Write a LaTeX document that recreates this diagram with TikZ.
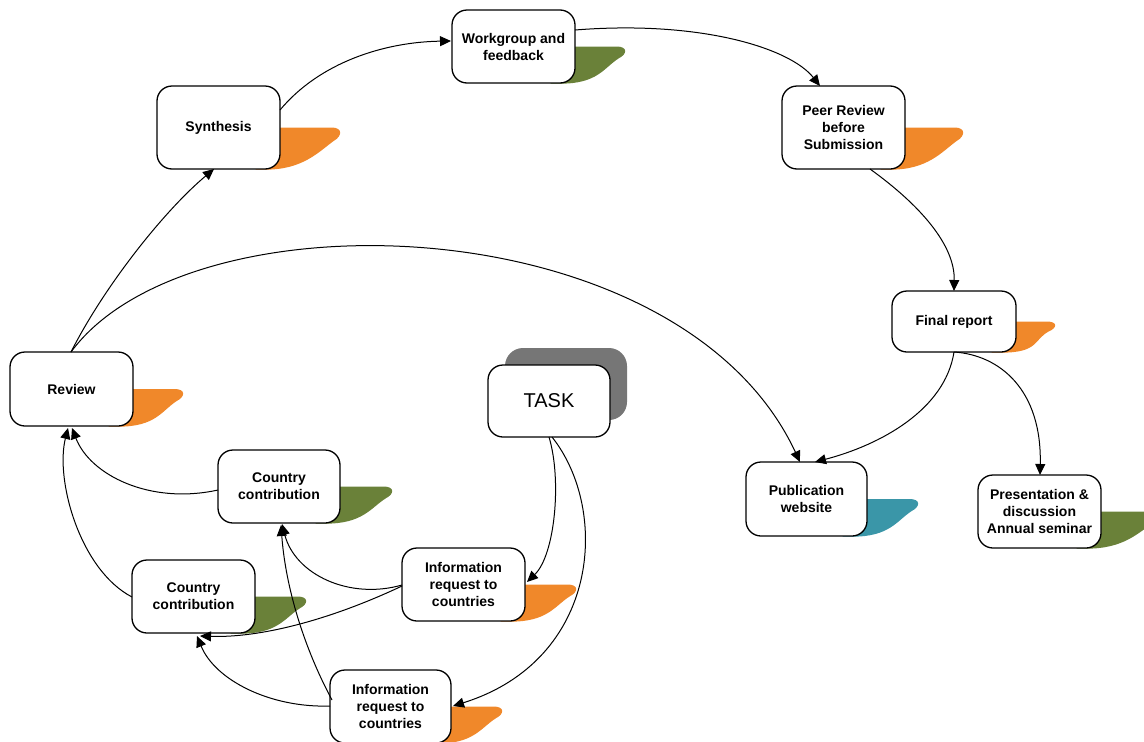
\documentclass[tikz,border=0pt]{standalone}
\usepackage{fontspec}
\setmainfont{Liberation Sans}
\usetikzlibrary{arrows.meta,calc}
\pgfdeclarelayer{bg}
\pgfsetlayers{bg,main}
\definecolor{sworange}{HTML}{F0882A}
\definecolor{swgreen}{HTML}{6A8139}
\definecolor{swteal}{HTML}{3A96A8}
\definecolor{shadowgray}{HTML}{767676}
% swoosh behind a box: #1 node, #2 tip length, #3 colour
\newcommand\swoosh[3]{%
  \fill[#3] let \p1=(#1.east), \p2=(#1.south east), \n1={\y1-\y2} in
    (\x1-25pt,\y1) -- (\x1+#2pt-9pt,\y1)
    .. controls (\x1+#2pt+2pt,\y1) and (\x1+#2pt+2pt,\y1-0.2*\n1) .. (\x1+#2pt-7pt,\y1-0.32*\n1)
    .. controls (\x1+#2pt-22pt,\y1-0.58*\n1) and (\x1+22pt,\y2) .. (\x1-15pt,\y2)
    -- (\x1-25pt,\y2) -- cycle;}
\begin{document}
\begin{tikzpicture}[x=1pt,y=-1pt,
  box/.style={draw, line width=1.3pt, rounded corners=15pt, fill=white,
    minimum width=123pt, minimum height=73pt, inner sep=2pt, align=center,
    font=\bfseries\fontsize{14}{17}\selectfont},
  conn/.style={line width=1pt, -{Triangle[length=11pt,width=10pt]}}]
\useasboundingbox (0,0) rectangle (1144,742);
% nodes
\node[box] (work) at (513.5,46.5) {Workgroup and\\feedback};
\node[box, minimum height=83pt] (synth) at (218.5,127.5) {Synthesis};
\node[box, minimum height=83pt] (peer) at (843.5,127.5) {Peer Review\\before\\Submission};
\node[box, minimum width=124pt, minimum height=61pt] (final) at (954,321.5) {Final report};
\node[box, minimum height=74pt] (review) at (71.5,389) {Review};
\node[box, minimum width=122pt, minimum height=72pt, font=\fontsize{20}{24}\selectfont] (task) at (549,401) {TASK};
\node[box, minimum width=122pt] (cc1) at (279,486.5) {Country\\contribution};
\node[box, minimum width=121pt, minimum height=74pt] (pub) at (806.5,499) {Publication\\website};
\node[box] (pres) at (1039.5,511.5) {Presentation \&\\discussion\\Annual seminar};
\node[box] (cc2) at (193.5,596.5) {Country\\contribution};
\node[box] (ir1) at (463.5,584.5) {Information\\request to\\countries};
\node[box, minimum width=121pt] (ir2) at (390.5,706.5) {Information\\request to\\countries};
% background decorations
\begin{pgfonlayer}{bg}
  \node[fill=shadowgray, rounded corners=18pt, minimum width=122pt, minimum height=72pt] (taskshadow) at (566,384) {};
  \swoosh{work}{50}{swgreen}
  \swoosh{synth}{60}{sworange}
  \swoosh{peer}{58}{sworange}
  \swoosh{final}{39}{sworange}
  \swoosh{review}{50}{sworange}
  \swoosh{cc1}{52}{swgreen}
  \swoosh{pub}{51}{swteal}
  \begin{scope}
    \clip (0,0) rectangle (1144,742);
    \swoosh{pres}{58}{swgreen}
  \end{scope}
  \swoosh{cc2}{51}{swgreen}
  \swoosh{ir1}{51}{sworange}
  \swoosh{ir2}{51}{sworange}
\end{pgfonlayer}
% connectors
\draw[conn] ($(synth)+(61.5,-17.5)$) .. controls (320,62) and (385,42) .. ($(work)+(-62.5,-5.5)$);
\draw[conn] ($(work)+(61.5,-16.5)$) .. controls (700,20) and (790,48) .. ($(peer)+(-23.5,-41.5)$);
\draw[conn] ($(peer)+(26.5,41.5)$) .. controls (920,205) and (955,245) .. ($(final)+(0,-30.5)$);
\draw[conn] ($(final)+(0,30.5)$) .. controls (945,410) and (880,445) .. ($(pub)+(8.5,-37)$);
\draw[conn] ($(final)+(0,30.5)$) .. controls (1000,355) and (1042,390) .. ($(pres)+(0.5,-36.5)$);
\draw[conn] ($(review)+(-0.5,-37)$) .. controls (105,285) and (165,210) .. ($(synth)+(-4.5,41.5)$);
\draw[conn] ($(review)+(-0.5,-37)$) .. controls (190,190) and (680,205) .. ($(pub)+(-6.5,-37)$);
\draw[conn] ($(cc1)+(-61,3.5)$) .. controls (150,505) and (90,475) .. ($(review)+(0.5,39)$);
\draw[conn] ($(cc2)+(-61.5,0.5)$) .. controls (80,570) and (55,480) .. ($(review)+(-3.5,39)$);
\draw[conn] ($(task)+(0,36)$) .. controls (562,480) and (555,555) .. ($(ir1)+(63.5,-2.5)$);
\draw[conn] ($(task)+(3,36)$) .. controls (610,510) and (600,660) .. ($(ir2)+(62.5,-0.5)$);
\draw[conn] ($(ir1)+(-61.5,0.5)$) .. controls (350,600) and (295,575) .. ($(cc1)+(3,37.5)$);
\draw[conn] ($(ir1)+(-61.5,1.5)$) .. controls (330,620) and (260,638) .. ($(cc2)+(6.5,39.5)$);
\draw[conn] ($(ir2)+(-60.5,-0.5)$) .. controls (270,708) and (215,680) .. ($(cc2)+(3.5,39.5)$);
\draw[conn] ($(ir2)+(-58.5,-6.5)$) .. controls (300,640) and (285,580) .. ($(cc1)+(2,38.5)$);
\end{tikzpicture}
\end{document}
